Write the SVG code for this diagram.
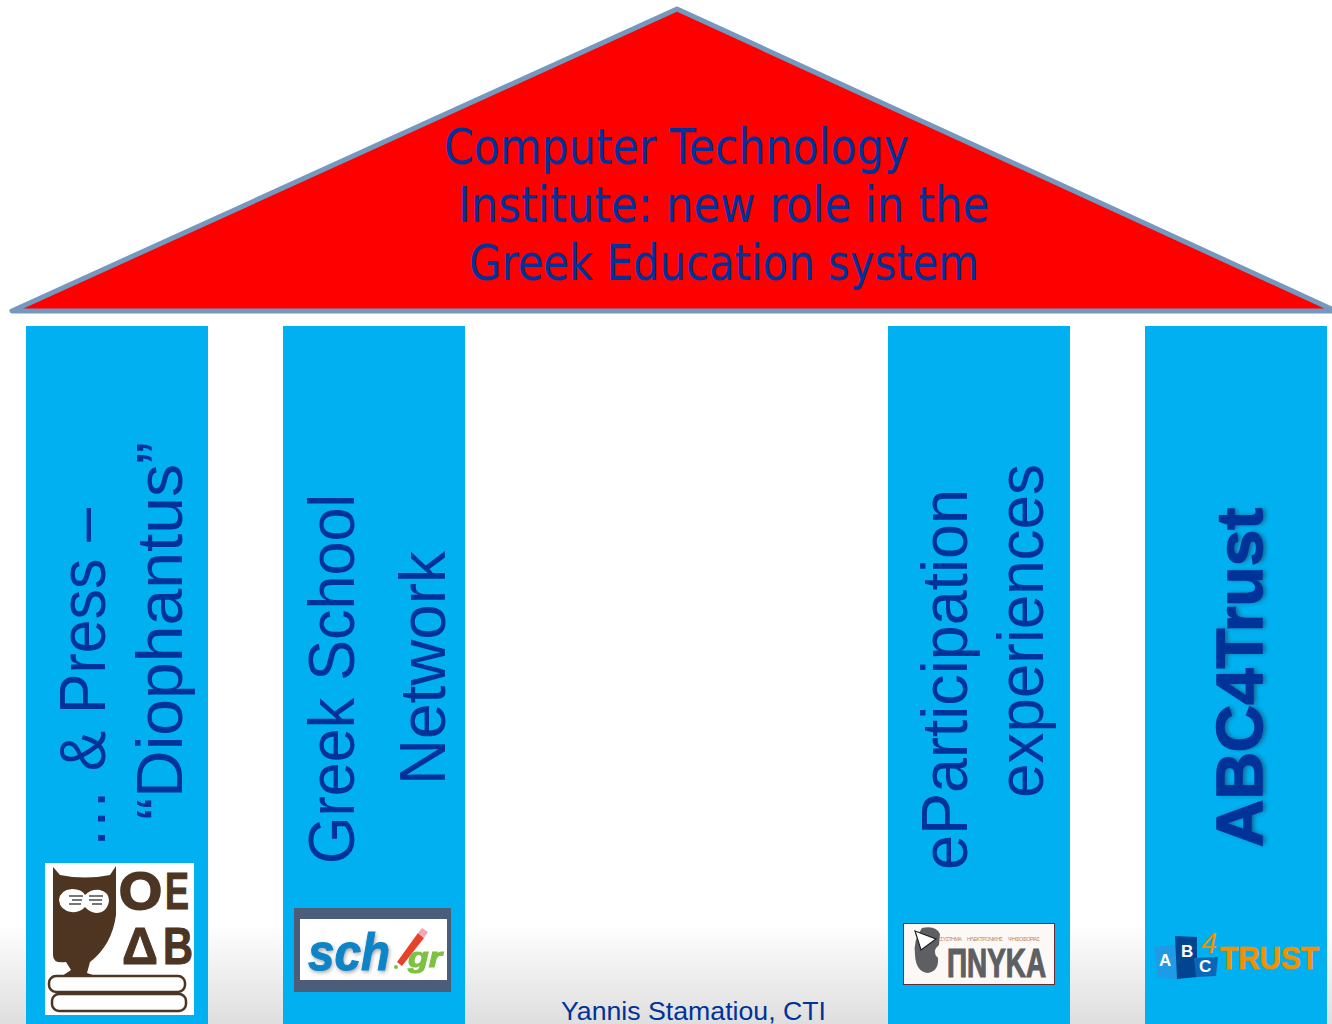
<svg xmlns="http://www.w3.org/2000/svg" width="1332" height="1024" viewBox="0 0 1332 1024">
<defs>
<linearGradient id="bg" x1="0" y1="0" x2="0" y2="1"><stop offset="0" stop-color="#ffffff"/><stop offset="1" stop-color="#dedede"/></linearGradient>
<filter id="soft" x="-20%" y="-20%" width="140%" height="140%"><feGaussianBlur stdDeviation="2"/></filter>
<filter id="blur" x="-5%" y="-5%" width="110%" height="110%"><feGaussianBlur stdDeviation="0.5"/></filter>
</defs>
<style>
text{font-family:"Liberation Sans",Arial,sans-serif}
.pillar{fill:#00b0f0}
.t{fill:#003399;font-size:50px;font-family:"DejaVu Sans",sans-serif}
.v{fill:#003399;font-size:65px}
.b{fill:#003399;stroke:#003399;stroke-width:1.5;font-size:65px;font-weight:bold}
.brown{fill:#4d3524;stroke:#4d3524;font-size:51px;font-weight:bold}
.bk{fill:#fff;stroke:#4d3524;stroke-width:2.5}
</style>
<rect width="1332" height="1024" fill="#fff"/>
<rect y="925" width="1332" height="99" fill="url(#bg)"/>
<g id="roof">
<polygon points="677,9 12,311 1336,311" fill="#ff0000" stroke="#7498be" stroke-width="5" stroke-linejoin="round"/>
<text class="t" x="444" y="164" textLength="465" lengthAdjust="spacingAndGlyphs">Computer Technology</text>
<text class="t" x="458" y="222" textLength="531" lengthAdjust="spacingAndGlyphs">Institute: new role in the</text>
<text class="t" x="469" y="280" textLength="510" lengthAdjust="spacingAndGlyphs">Greek Education system</text>
</g>
<g id="pillar-press">
<rect class="pillar" x="26" y="326" width="182" height="698"/>
<text class="v" transform="translate(105,849) rotate(-90)" textLength="341" lengthAdjust="spacingAndGlyphs">… &amp; Press –</text>
<text class="v" transform="translate(182,820) rotate(-90)" textLength="378" lengthAdjust="spacingAndGlyphs">“Diophantus”</text>
<g id="logo-oeab">
<rect x="45" y="863" width="149" height="152" fill="#fff"/>
<path fill="#4d3524" d="M53,867 L60,875 Q85,880 110,875 L116,866 L116,915 Q112,945 90,962 L87,973 L96,976 L62,976 L71,970 L66,962 Q53,964 53,955 Z" filter="url(#blur)"/>
<path fill="#fff" d="M59,900 Q60,890 72,889 Q82,889 85,895 Q91,889 100,890 Q109,892 109,901 Q107,913 96,913 Q89,912 85,907 Q80,913 71,912 Q60,910 59,900 Z"/>
<path fill="#777" d="M69,895 h14 v2 h-14z M72,899 h10 v2 h-10z M69,903 h12 v2 h-12z M89,895 h14 v2 h-14z M89,899 h13 v2 h-13z M92,903 h10 v2 h-10z"/>
<text class="brown" x="119" y="909" stroke-width="2" textLength="43" lengthAdjust="spacingAndGlyphs">O</text>
<text class="brown" x="165" y="909" stroke-width="1" textLength="24" lengthAdjust="spacingAndGlyphs">E</text>
<text class="brown" x="122" y="964" stroke-width="1" textLength="36" lengthAdjust="spacingAndGlyphs">Δ</text>
<text class="brown" x="163" y="964" stroke-width="1" textLength="30" lengthAdjust="spacingAndGlyphs">B</text>
<rect class="bk" x="49" y="976" width="136" height="16" rx="7"/>
<rect class="bk" x="52" y="994" width="134" height="17" rx="7"/>
</g>
</g>
<g id="pillar-sch">
<rect class="pillar" x="283" y="326" width="182" height="698"/>
<text class="v" transform="translate(354,864) rotate(-90)" textLength="370" lengthAdjust="spacingAndGlyphs">Greek School</text>
<text class="v" transform="translate(445,785) rotate(-90)" textLength="234" lengthAdjust="spacingAndGlyphs">Network</text>
<g id="logo-sch">
<rect x="294" y="908" width="157" height="84" fill="#4b5d78"/>
<rect x="300" y="919" width="147" height="61" fill="#fff"/>
<text x="309" y="972" font-size="52" font-weight="bold" font-style="italic" fill="#999" textLength="82" lengthAdjust="spacingAndGlyphs" filter="url(#soft)">sch</text>
<text x="308" y="970" font-size="52" font-weight="bold" font-style="italic" fill="#0f84c8" stroke="#0f84c8" textLength="82" lengthAdjust="spacingAndGlyphs" filter="url(#blur)">sch</text>
<path d="M397,962 L418,933 L424,938 L402,966 Z" fill="#e8402a" filter="url(#blur)"/>
<path d="M418,933 L422,928 L428,932 L424,938 Z" fill="#f0a8b8"/>
<text x="408" y="967" font-size="28" font-weight="bold" font-style="italic" fill="#7cc242" stroke="#7cc242" textLength="34" lengthAdjust="spacingAndGlyphs" filter="url(#blur)">gr</text>
<circle cx="396" cy="967" r="2" fill="#7cc242"/>
</g>
</g>
<g id="pillar-eparticipation">
<rect class="pillar" x="888" y="326" width="182" height="698"/>
<text class="v" transform="translate(967,870) rotate(-90)" textLength="381" lengthAdjust="spacingAndGlyphs">eParticipation</text>
<text class="v" transform="translate(1043,798) rotate(-90)" textLength="334" lengthAdjust="spacingAndGlyphs">experiences</text>
<g id="logo-pnyka">
<rect x="903.5" y="923.5" width="151" height="61" fill="#fbf8f6" stroke="#6b2a30"/>
<path d="M922,928 Q936,925 940,934 L939,945 Q931,951 938,958 Q939,971 928,973 Q916,972 915,955 Q913,940 922,928 Z" fill="#5d5f63" filter="url(#blur)"/>
<path d="M915,931 L936,939 L921,950 Z" fill="#fff" stroke="#222" stroke-width="1.2"/>
<g font-size="5.5" fill="#c08a5a">
<text x="940" y="941" textLength="22">ΣΥΣΤΗΜΑ</text>
<text x="967" y="941" textLength="36">ΗΛΕΚΤΡΟΝΙΚΗΣ</text>
<text x="1008" y="941" textLength="32">ΨΗΦΟΦΟΡΙΑΣ</text>
</g>
<text x="947" y="977" font-size="41" font-weight="bold" fill="#5d5f63" stroke="#5d5f63" stroke-width="1.2" textLength="99" lengthAdjust="spacingAndGlyphs">ΠΝΥΚΑ</text>
</g>
</g>
<g id="pillar-abc4trust">
<rect class="pillar" x="1145" y="326" width="182" height="698"/>
<text font-size="65" font-weight="bold" fill="#1a4a70" opacity="0.75" filter="url(#soft)" transform="translate(1265,847) rotate(-90)" textLength="339" lengthAdjust="spacingAndGlyphs">ABC4Trust</text>
<text class="b" transform="translate(1262,847) rotate(-90)" textLength="339" lengthAdjust="spacingAndGlyphs">ABC4Trust</text>
<g id="logo-abc">
<polygon points="1154,947 1175,945 1177,979 1158,978" fill="#1e9ae6"/>
<polygon points="1175,936 1197,937 1197,977 1177,979" fill="#02448f"/>
<polygon points="1194,958 1218,957 1216,976 1196,977" fill="#0a67b8"/>
<text x="1159" y="966" font-size="17" font-weight="bold" fill="#fff">A</text>
<text x="1181" y="957" font-size="17" font-weight="bold" fill="#fff">B</text>
<text x="1199" y="972" font-size="17" font-weight="bold" fill="#fff">C</text>
<text x="1201" y="953" font-size="29" font-style="italic" fill="#f29100">4</text>
<text x="1220" y="969" font-size="32" font-weight="bold" fill="#f29100" stroke="#f29100" stroke-width="0.6" textLength="99" lengthAdjust="spacingAndGlyphs">TRUST</text>
</g>
</g>
<text x="561" y="1020" font-size="25" fill="#003399" textLength="265" lengthAdjust="spacingAndGlyphs">Yannis Stamatiou, CTI</text>
</svg>
